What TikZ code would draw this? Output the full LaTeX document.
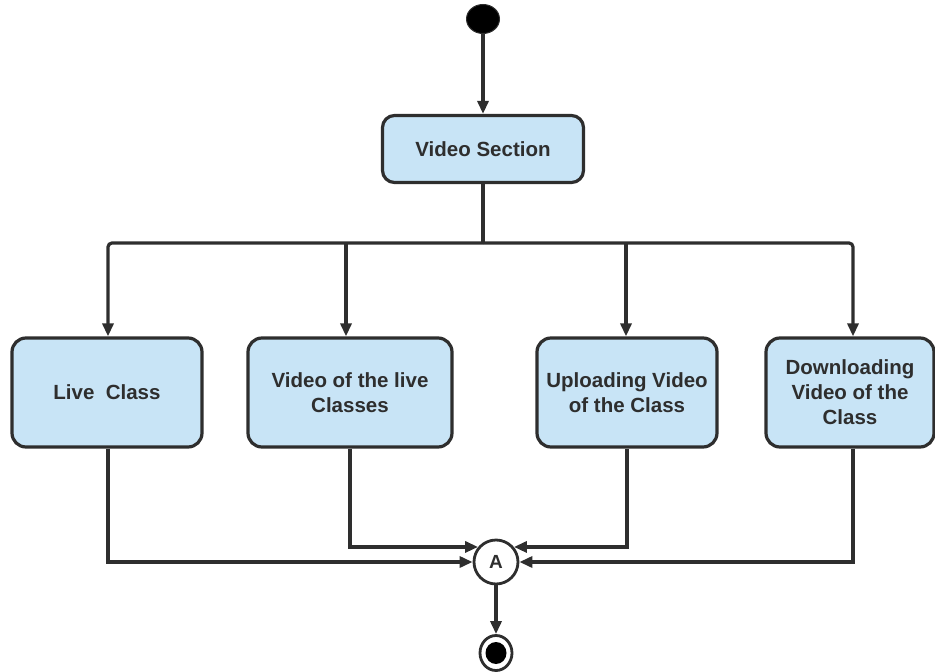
\documentclass[tikz,border=0pt]{standalone}
\usepackage{fontspec}
\setmainfont{Liberation Sans}
\usetikzlibrary{arrows.meta,shapes.geometric}
\definecolor{boxfill}{HTML}{C8E4F6}
\definecolor{ink}{HTML}{2E2E2E}
\begin{document}
\begin{tikzpicture}[x=1pt,y=-1pt,
  activity/.style={draw=ink,fill=boxfill,line width=3.2pt,rounded corners=14pt,
    align=center,font=\fontsize{20.5}{25}\selectfont\bfseries,text=ink,inner sep=2pt},
  conn/.style={draw=ink,line width=3.2pt},
  arr/.style={conn,-{Triangle[length=13pt,width=11pt]}}]
\useasboundingbox (0,0) rectangle (935,672);

% start and end states
\node[ellipse,fill=black,draw=ink,line width=1pt,minimum width=33pt,minimum height=29pt,inner sep=0pt] (start) at (483,19) {};
\node[ellipse,draw=ink,fill=white,line width=2.8pt,minimum width=32pt,minimum height=35pt,inner sep=0pt] (end) at (496,653) {};
\fill[black] (end.center) ellipse (10.5 and 11);

% activities
\node[activity,minimum width=201pt,minimum height=67pt,rounded corners=12pt] (vs) at (483,149) {Video Section};
\node[activity,minimum width=190pt,minimum height=109pt] (live) at (107,392.5) {Live\ \ Class};
\node[activity,minimum width=204pt,minimum height=109pt] (vlive) at (350,392.5) {Video of the live\\Classes};
\node[activity,minimum width=180pt,minimum height=109pt] (upl) at (627,392.5) {Uploading Video\\of the Class};
\node[activity,minimum width=168pt,minimum height=109pt] (down) at (850,392.5) {Downloading\\Video of the\\Class};

% connector
\node[circle,draw=ink,fill=white,line width=2.8pt,minimum size=44pt,inner sep=0pt,
  font=\fontsize{19}{20}\selectfont\bfseries,text=ink] (A) at (496,562) {A};

% entry points on the activity tops
\coordinate (liveIn) at ([xshift=1pt]live.north);
\coordinate (vliveIn) at ([xshift=-4pt]vlive.north);
\coordinate (uplIn) at ([xshift=-1pt]upl.north);
\coordinate (downIn) at ([xshift=3pt]down.north);
\coordinate (liveOut) at ([xshift=1pt]live.south);
\coordinate (downOut) at ([xshift=3pt]down.south);

% fork
\coordinate (j) at (483,243);
\draw[arr] (start.south) -- (vs.north);
\draw[conn] (vs.south) -- (j);
\draw[arr,rounded corners=4pt] (j) -| (liveIn);
\draw[arr,rounded corners=4pt] (j) -| (downIn);
\draw[arr] (j -| vliveIn) -- (vliveIn);
\draw[arr] (j -| uplIn) -- (uplIn);

% merge
\draw[arr] (liveOut) |- (A.west);
\draw[arr] (vlive.south) |- (A.140);
\draw[arr] (upl.south) |- (A.40);
\draw[arr] (downOut) |- (A.east);
\draw[arr] (A.south) -- (end.north);
\end{tikzpicture}
\end{document}
